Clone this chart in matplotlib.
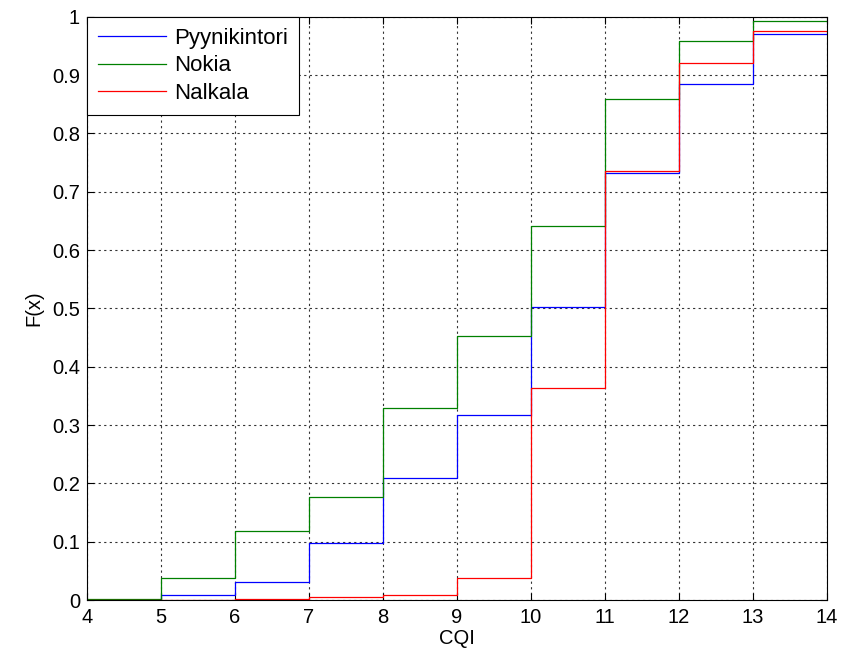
import numpy as np
import matplotlib.pyplot as plt

# CQI bin edges and empirical CDF values per site
cqi = [4, 5, 6, 7, 8, 9, 10, 11, 12, 13, 14]
pyynikintori = [0.0, 0.008, 0.031, 0.098, 0.21, 0.318, 0.502, 0.732, 0.885, 0.971]
nokia = [0.002, 0.037, 0.118, 0.177, 0.33, 0.452, 0.642, 0.859, 0.958, 0.993]
nalkala = [0.0, 0.0, 0.001, 0.005, 0.008, 0.037, 0.364, 0.735, 0.921, 0.976]

series = [("Pyynikintori", pyynikintori, "#0000ff"),
          ("Nokia", nokia, "#008000"),
          ("Nalkala", nalkala, "#ff0000")]

plt.rcParams['font.family'] = ['Liberation Sans', 'DejaVu Sans']

fig = plt.figure(figsize=(8.41, 6.59), dpi=100)
ax = fig.add_axes([0.1034, 0.0895, 0.8796, 0.8852])

for name, vals, col in series:
    y = list(vals) + [vals[-1]]
    ax.step(cqi, y, where='post', color=col, lw=0.9, label=name)

ax.set_xlim(4, 14)
ax.set_ylim(0, 1)
ax.set_xticks(range(4, 15))
yt = np.round(np.arange(0, 1.01, 0.1), 1)
ax.set_yticks(yt)
ax.set_yticklabels(['0'] + [f'{v:g}' for v in yt[1:-1]] + ['1'])
ax.tick_params(direction='in', top=True, right=True, labelsize=14.5, length=5)
ax.tick_params(axis='x', pad=6)
ax.tick_params(axis='y', pad=5)
ax.grid(True, color='#333333', linestyle=(0, (2, 3)), linewidth=0.8)
ax.set_xlabel('CQI', fontsize=14.5, labelpad=1)
ax.set_ylabel('F(x)', fontsize=14.5, labelpad=6)

leg = ax.legend(loc='upper left', fontsize=16, fancybox=False, framealpha=1,
                edgecolor='black', borderaxespad=0, handlelength=3.05,
                handletextpad=0.35, borderpad=0.5, labelspacing=0.3)
leg.get_frame().set_linewidth(0.8)

fig.savefig('out.png', dpi=100)
